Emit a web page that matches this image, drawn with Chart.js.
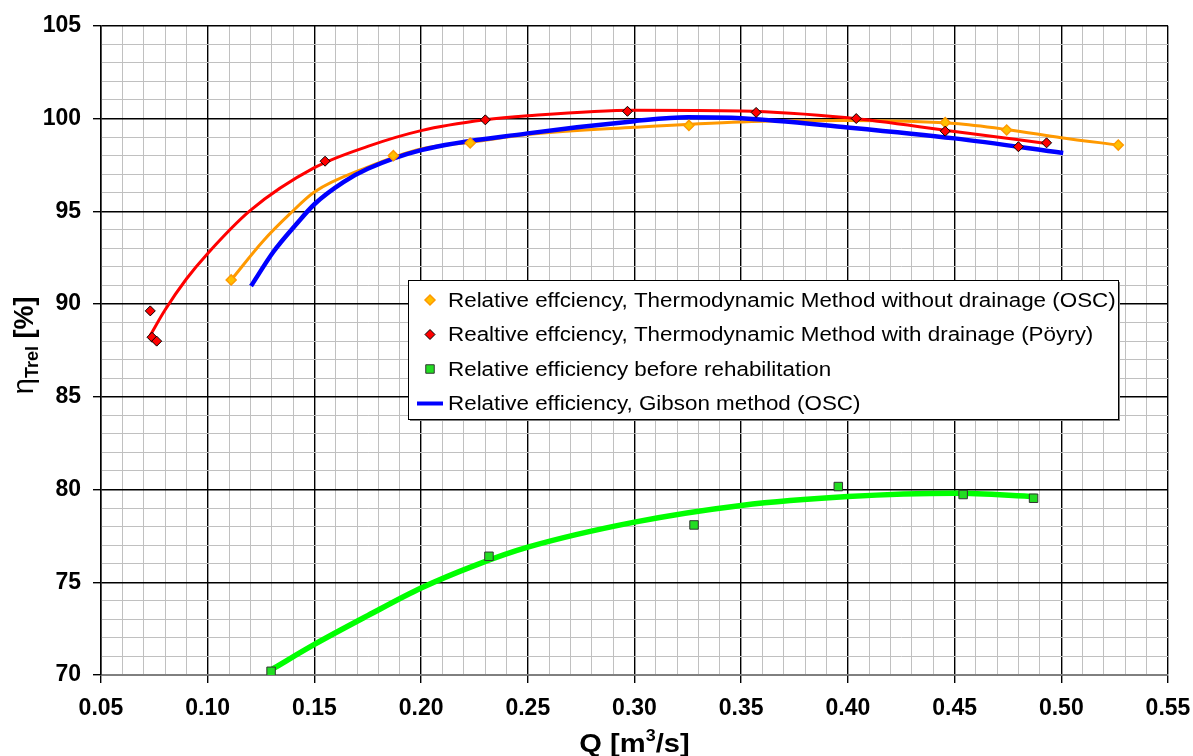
<!DOCTYPE html>
<html>
<head>
<meta charset="utf-8">
<script src="https://cdn.jsdelivr.net/npm/chart.js@4.4.0/dist/chart.umd.min.js"></script>
<style>
  html, body { margin: 0; padding: 0; background: #fff; }
  #wrap { position: relative; width: 1193px; height: 756px; }
</style>
</head>
<body>
<div id="wrap"><canvas id="graficoEta" width="1193" height="756"></canvas></div>
<script>
const qOsc = [0.111, 0.187, 0.223, 0.3255, 0.4456, 0.4744, 0.5267];
const etaOsc = [91.3, 98.0, 98.68, 99.63, 99.79, 99.38, 98.57];

const qPoyry = [0.0731, 0.0739, 0.0761, 0.155, 0.2301, 0.2967, 0.357, 0.4039, 0.4456, 0.4799, 0.4931];
const etaPoyry = [89.63, 88.21, 88.0, 97.7, 99.93, 100.39, 100.33, 100.0, 99.32, 98.48, 98.69];

const qBefore = [0.1297, 0.2318, 0.3279, 0.3955, 0.454, 0.487];
const etaBefore = [70.2, 76.4, 78.09, 80.16, 79.73, 79.53];

// trend curves at several Q values
const qOscTrend = [0.111, 0.126, 0.1386, 0.15, 0.175, 0.2, 0.225, 0.25, 0.3, 0.35, 0.4, 0.45, 0.475, 0.5, 0.5267];
const etaOscTrend = [91.3, 93.4, 94.87, 96.04, 97.38, 98.36, 98.75, 99.14, 99.53, 99.82, 99.89, 99.73, 99.4, 98.97, 98.57];

const qPoyryTrend = [0.073, 0.08, 0.09, 0.10, 0.12, 0.15, 0.175, 0.2, 0.23, 0.25, 0.3, 0.35, 0.4, 0.45, 0.4931];
const etaPoyryTrend = [88.3, 89.68, 91.35, 92.73, 95.05, 97.35, 98.5, 99.35, 99.93, 100.15, 100.45, 100.41, 100.04, 99.3, 98.66];

const qGibson = [0.1203, 0.1308, 0.1417, 0.15, 0.1636, 0.175, 0.2, 0.25, 0.3, 0.325, 0.35, 0.4, 0.45, 0.5009];
const etaGibson = [90.97, 92.82, 94.33, 95.38, 96.57, 97.29, 98.3, 99.2, 99.86, 100.07, 100.02, 99.52, 98.93, 98.14];

const qBeforeTrend = [0.13, 0.15, 0.175, 0.2, 0.225, 0.25, 0.3, 0.35, 0.4, 0.45, 0.488];
const etaBeforeTrend = [70.3, 71.65, 73.2, 74.69, 75.9, 76.89, 78.24, 79.14, 79.62, 79.8, 79.62];

const legendLabels = [
    'Relative effciency, Thermodynamic Method without drainage (OSC)',
    'Realtive effciency, Thermodynamic Method with drainage (Pöyry)',
    'Relative efficiency before rehabilitation',
    'Relative efficiency, Gibson method (OSC)'
];

// x axis: 0.05 .. 0.55, y axis: 70 .. 105
const xMin = 0.05, xMax = 0.55, xStep = 0.01;
const yMin = 70, yMax = 105, yStep = 1;

const pares = (xs, ys) => xs.map((x, i) => ({ x: x, y: ys[i] }));
const majorX = v => Math.abs(v * 20 - Math.round(v * 20)) < 1e-6;
const majorY = v => Math.abs(v / 5 - Math.round(v / 5)) < 1e-6;

const FONTE = "'Liberation Sans', Arial, sans-serif";

// texto com leve esticamento horizontal (como no original)
function textoEsticado(c, txt, x, y, sx) {
    c.save();
    c.translate(x, y);
    c.scale(sx, 1);
    c.fillText(txt, 0, 0);
    c.restore();
    return c.measureText(txt).width * sx;
}

// legenda desenhada dentro da área do gráfico
const legendaPlugin = {
    id: 'legendaBox',
    afterDatasetsDraw(chart) {
        const c = chart.ctx;
        const x0 = 408, y0 = 280, w = 710, h = 139;
        c.save();
        c.fillStyle = '#7f7f7f';
        c.fillRect(x0 + 2, y0 + 2, w, h);
        c.fillStyle = '#fff';
        c.fillRect(x0, y0, w, h);
        c.strokeStyle = '#000';
        c.lineWidth = 1;
        c.strokeRect(x0 + 0.5, y0 + 0.5, w, h);

        const idx = [4, 5, 6, 2];
        c.font = '20px ' + FONTE;
        c.textBaseline = 'middle';
        legendLabels.forEach((txt, i) => {
            const ds = chart.data.datasets[idx[i]];
            const cy = y0 + 20 + i * 34.5;
            if (ds.showLine) {
                c.strokeStyle = ds.borderColor;
                c.lineWidth = 4;
                c.beginPath();
                c.moveTo(417, cy);
                c.lineTo(443, cy);
                c.stroke();
            } else {
                c.fillStyle = ds.backgroundColor;
                c.strokeStyle = ds.borderColor;
                c.lineWidth = ds.borderWidth;
                Chart.helpers.drawPoint(c, {
                    pointStyle: ds.pointStyle, rotation: 0,
                    radius: ds.pointRadius, borderWidth: ds.borderWidth
                }, 430, cy);
            }
            c.fillStyle = '#000';
            textoEsticado(c, txt, 448, cy + 1, 1.12);
        });
        c.restore();
    }
};

// títulos dos eixos com sub/sobrescrito
const titulosPlugin = {
    id: 'titulos',
    afterDraw(chart) {
        const c = chart.ctx;
        const a = chart.chartArea;
        c.save();
        c.fillStyle = '#000';
        c.textBaseline = 'alphabetic';

        // eixo x: Q [m3/s]
        const sx = 1.12;
        const partes = [['Q [m', 'bold 26px ' + FONTE, 0], ['3', 'bold 16px ' + FONTE, -11], ['/s]', 'bold 26px ' + FONTE, 0]];
        let total = 0;
        partes.forEach(p => { c.font = p[1]; total += c.measureText(p[0]).width * sx; });
        let x = (a.left + a.right) / 2 - total / 2;
        partes.forEach(p => {
            c.font = p[1];
            x += textoEsticado(c, p[0], x, 752 + p[2], sx);
        });

        // eixo y: ηTrel [%]
        const partesY = [['η', '29px ' + FONTE, 0], ['Trel', 'bold 18px ' + FONTE, 5], [' [%]', 'bold 27px ' + FONTE, 0]];
        let totalY = 0;
        partesY.forEach(p => { c.font = p[1]; totalY += c.measureText(p[0]).width; });
        c.translate(33, (a.top + a.bottom) / 2 - 5);
        c.rotate(-Math.PI / 2);
        let px = -totalY / 2;
        partesY.forEach(p => {
            c.font = p[1];
            c.fillText(p[0], px, p[2]);
            px += c.measureText(p[0]).width;
        });
        c.restore();
    }
};

document.addEventListener('DOMContentLoaded', function() {
    const ctx = document.getElementById('graficoEta').getContext('2d');

    new Chart(ctx, {
        type: 'scatter',
        data: {
            datasets: [
                {   // 0 orange trend
                    data: pares(qOscTrend, etaOscTrend),
                    showLine: true, borderColor: '#FF9900', borderWidth: 3,
                    pointRadius: 0, cubicInterpolationMode: 'monotone', order: 4
                },
                {   // 1 red trend
                    data: pares(qPoyryTrend, etaPoyryTrend),
                    showLine: true, borderColor: '#FF0000', borderWidth: 3,
                    pointRadius: 0, cubicInterpolationMode: 'monotone', order: 2
                },
                {   // 2 blue Gibson
                    label: legendLabels[3],
                    data: pares(qGibson, etaGibson),
                    showLine: true, borderColor: '#0000FF', borderWidth: 4.5,
                    pointRadius: 0, cubicInterpolationMode: 'monotone', order: 3
                },
                {   // 3 green trend
                    data: pares(qBeforeTrend, etaBeforeTrend),
                    showLine: true, borderColor: '#00FF00', borderWidth: 5.5,
                    pointRadius: 0, cubicInterpolationMode: 'monotone', order: 5
                },
                {   // 4 orange points
                    label: legendLabels[0],
                    data: pares(qOsc, etaOsc),
                    showLine: false, pointStyle: 'rectRot', pointRadius: 5,
                    backgroundColor: '#FFC000', borderColor: '#FF9900', borderWidth: 1.5, order: 1
                },
                {   // 5 red points
                    label: legendLabels[1],
                    data: pares(qPoyry, etaPoyry),
                    showLine: false, pointStyle: 'rectRot', pointRadius: 5,
                    backgroundColor: '#FF0000', borderColor: '#000000', borderWidth: 1, order: 0
                },
                {   // 6 green points
                    label: legendLabels[2],
                    data: pares(qBefore, etaBefore),
                    showLine: false, pointStyle: 'rect', pointRadius: 6,
                    backgroundColor: '#22DD22', borderColor: '#333333', borderWidth: 1, order: 0
                }
            ]
        },
        options: {
            responsive: false,
            animation: false,
            layout: { padding: { top: 23, right: 25, left: 0, bottom: 0 } },
            plugins: {
                legend: { display: false },
                tooltip: { enabled: false }
            },
            scales: {
                x: {
                    type: 'linear', min: xMin, max: xMax,
                    afterFit: s => { s.height = 81; s.paddingRight = 0; s.paddingLeft = 0; },
                    ticks: {
                        stepSize: xStep, autoSkip: false, maxRotation: 0, padding: 12,
                        color: '#000', font: { family: FONTE, size: 23, weight: 'bold' },
                        callback: v => majorX(v) ? v.toFixed(2) : ''
                    },
                    grid: {
                        color: c => majorX(c.tick.value) ? '#000' : '#c0c0c0',
                        lineWidth: c => majorX(c.tick.value) ? 1.4 : 1,
                        tickColor: c => majorX(c.tick.value) ? '#000' : 'rgba(0,0,0,0)',
                        tickLength: 8
                    },
                    border: { color: '#808080', width: 1.5 }
                },
                y: {
                    type: 'linear', min: yMin, max: yMax,
                    afterFit: s => { s.width = 101; },
                    ticks: {
                        stepSize: yStep, autoSkip: false, padding: 12,
                        color: '#000', font: { family: FONTE, size: 23, weight: 'bold' },
                        callback: v => majorY(v) ? String(v) : ''
                    },
                    grid: {
                        color: c => majorY(c.tick.value) ? '#000' : '#c0c0c0',
                        lineWidth: c => majorY(c.tick.value) ? 1.4 : 1,
                        tickColor: c => majorY(c.tick.value) ? '#000' : 'rgba(0,0,0,0)',
                        tickLength: 8
                    },
                    border: { color: '#000', width: 1.5 }
                }
            }
        },
        plugins: [legendaPlugin, titulosPlugin]
    });
});
</script>
</body>
</html>
